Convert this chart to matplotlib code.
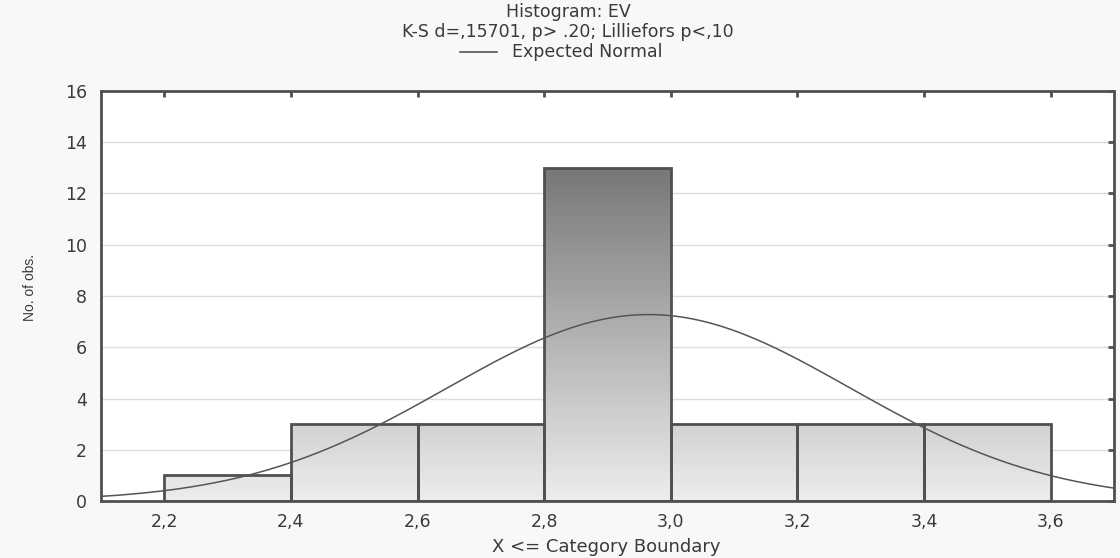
import numpy as np
import matplotlib
matplotlib.use("Agg")
import matplotlib.pyplot as plt
from matplotlib.lines import Line2D
from matplotlib.patches import Rectangle
from matplotlib.colors import LinearSegmentedColormap

plt.rcParams['font.family'] = ['DejaVu Sans']

# Data
bin_edges = [2.2, 2.4, 2.6, 2.8, 3.0, 3.2, 3.4, 3.6]
counts = [1, 3, 3, 13, 3, 3, 3]
normal_mean = 2.965
normal_sd = 0.318
x_ticks = [2.2, 2.4, 2.6, 2.8, 3.0, 3.2, 3.4, 3.6]
x_tick_labels = ["2,2", "2,4", "2,6", "2,8", "3,0", "3,2", "3,4", "3,6"]
y_ticks = [0, 2, 4, 6, 8, 10, 12, 14, 16]
title_lines = ["Histogram: EV", "K-S d=,15701, p> .20; Lilliefors p<,10"]
legend_label = "Expected Normal"

fig = plt.figure(figsize=(11.2, 5.58), dpi=100, facecolor="#f8f8f8")
ax = fig.add_axes([101/1120, 1 - 501/558, (1114-101)/1120, (501-91)/558])
ax.set_facecolor("white")

# grid
for yv in y_ticks:
    ax.axhline(yv, color="#dddddd", lw=1, zorder=0)

# gradient bars
cmap = LinearSegmentedColormap.from_list("g", ["#ededed", "#777777"])
grad = np.linspace(0, 1, 256).reshape(-1, 1)
ymax_grad = 13
for i, c in enumerate(counts):
    x0, x1 = bin_edges[i], bin_edges[i+1]
    im = ax.imshow(grad, cmap=cmap, vmin=0, vmax=1, aspect="auto", origin="lower",
                   extent=[x0, x1, 0, ymax_grad], zorder=1, interpolation="bilinear")
    rect = Rectangle((x0, 0), x1 - x0, c, facecolor="none", edgecolor="#505050",
                     lw=2, zorder=3)
    ax.add_patch(rect)
    clip = Rectangle((x0, 0), x1 - x0, c, transform=ax.transData)
    im.set_clip_path(clip)
ax.set_xlim(2.1, 3.7)
ax.set_ylim(0, 16)

# expected normal curve
n = sum(counts)
bw = bin_edges[1] - bin_edges[0]
xs = np.linspace(2.1, 3.7, 400)
ys = n * bw / (normal_sd * np.sqrt(2 * np.pi)) * np.exp(-0.5 * ((xs - normal_mean) / normal_sd) ** 2)
ax.plot(xs, ys, color="#555555", lw=1.1, zorder=4)

for s in ax.spines.values():
    s.set_color("#505050")
    s.set_linewidth(2)
    s.set_zorder(5)

ax.set_xticks(x_ticks)
ax.set_xticklabels(x_tick_labels)
ax.set_yticks(y_ticks)
ax.tick_params(axis="both", which="both", labelsize=12.5, colors="#3a3a3a", length=0)
ax.tick_params(axis="x", pad=8.5)
ax.tick_params(axis="y", pad=10)
ax.tick_params(top=True, right=True, direction="in", length=4, width=2, color="#505050")
ax.tick_params(bottom=False, left=False)

ax.set_xlabel("X <= Category Boundary", fontsize=13, color="#3a3a3a")
ax.xaxis.set_label_coords(0.499, (501 - 547) / 410, transform=ax.transAxes)
ax.xaxis.label.set_va("center")
ax.set_ylabel("No. of obs.", fontsize=10, color="#3a3a3a",
              family=['Liberation Sans', 'DejaVu Sans'])
ax.yaxis.set_label_coords((30 - 101) / 1013, (501 - 288) / 410, transform=ax.transAxes)
ax.yaxis.label.set_va("center")

cx = 568 / 1120
fig.text(cx, 1 - 12/558, title_lines[0], ha="center", va="center", fontsize=12.5, color="#3a3a3a")
fig.text(cx, 1 - 32/558, title_lines[1], ha="center", va="center", fontsize=12.5, color="#3a3a3a")
fig.text(512/1120, 1 - 52/558, legend_label, ha="left", va="center", fontsize=12.5, color="#3a3a3a")
fig.add_artist(Line2D([460/1120, 497/1120], [1 - 52/558, 1 - 52/558], color="#444444", lw=1.1))

fig.savefig("out.png", dpi=100, facecolor=fig.get_facecolor())
